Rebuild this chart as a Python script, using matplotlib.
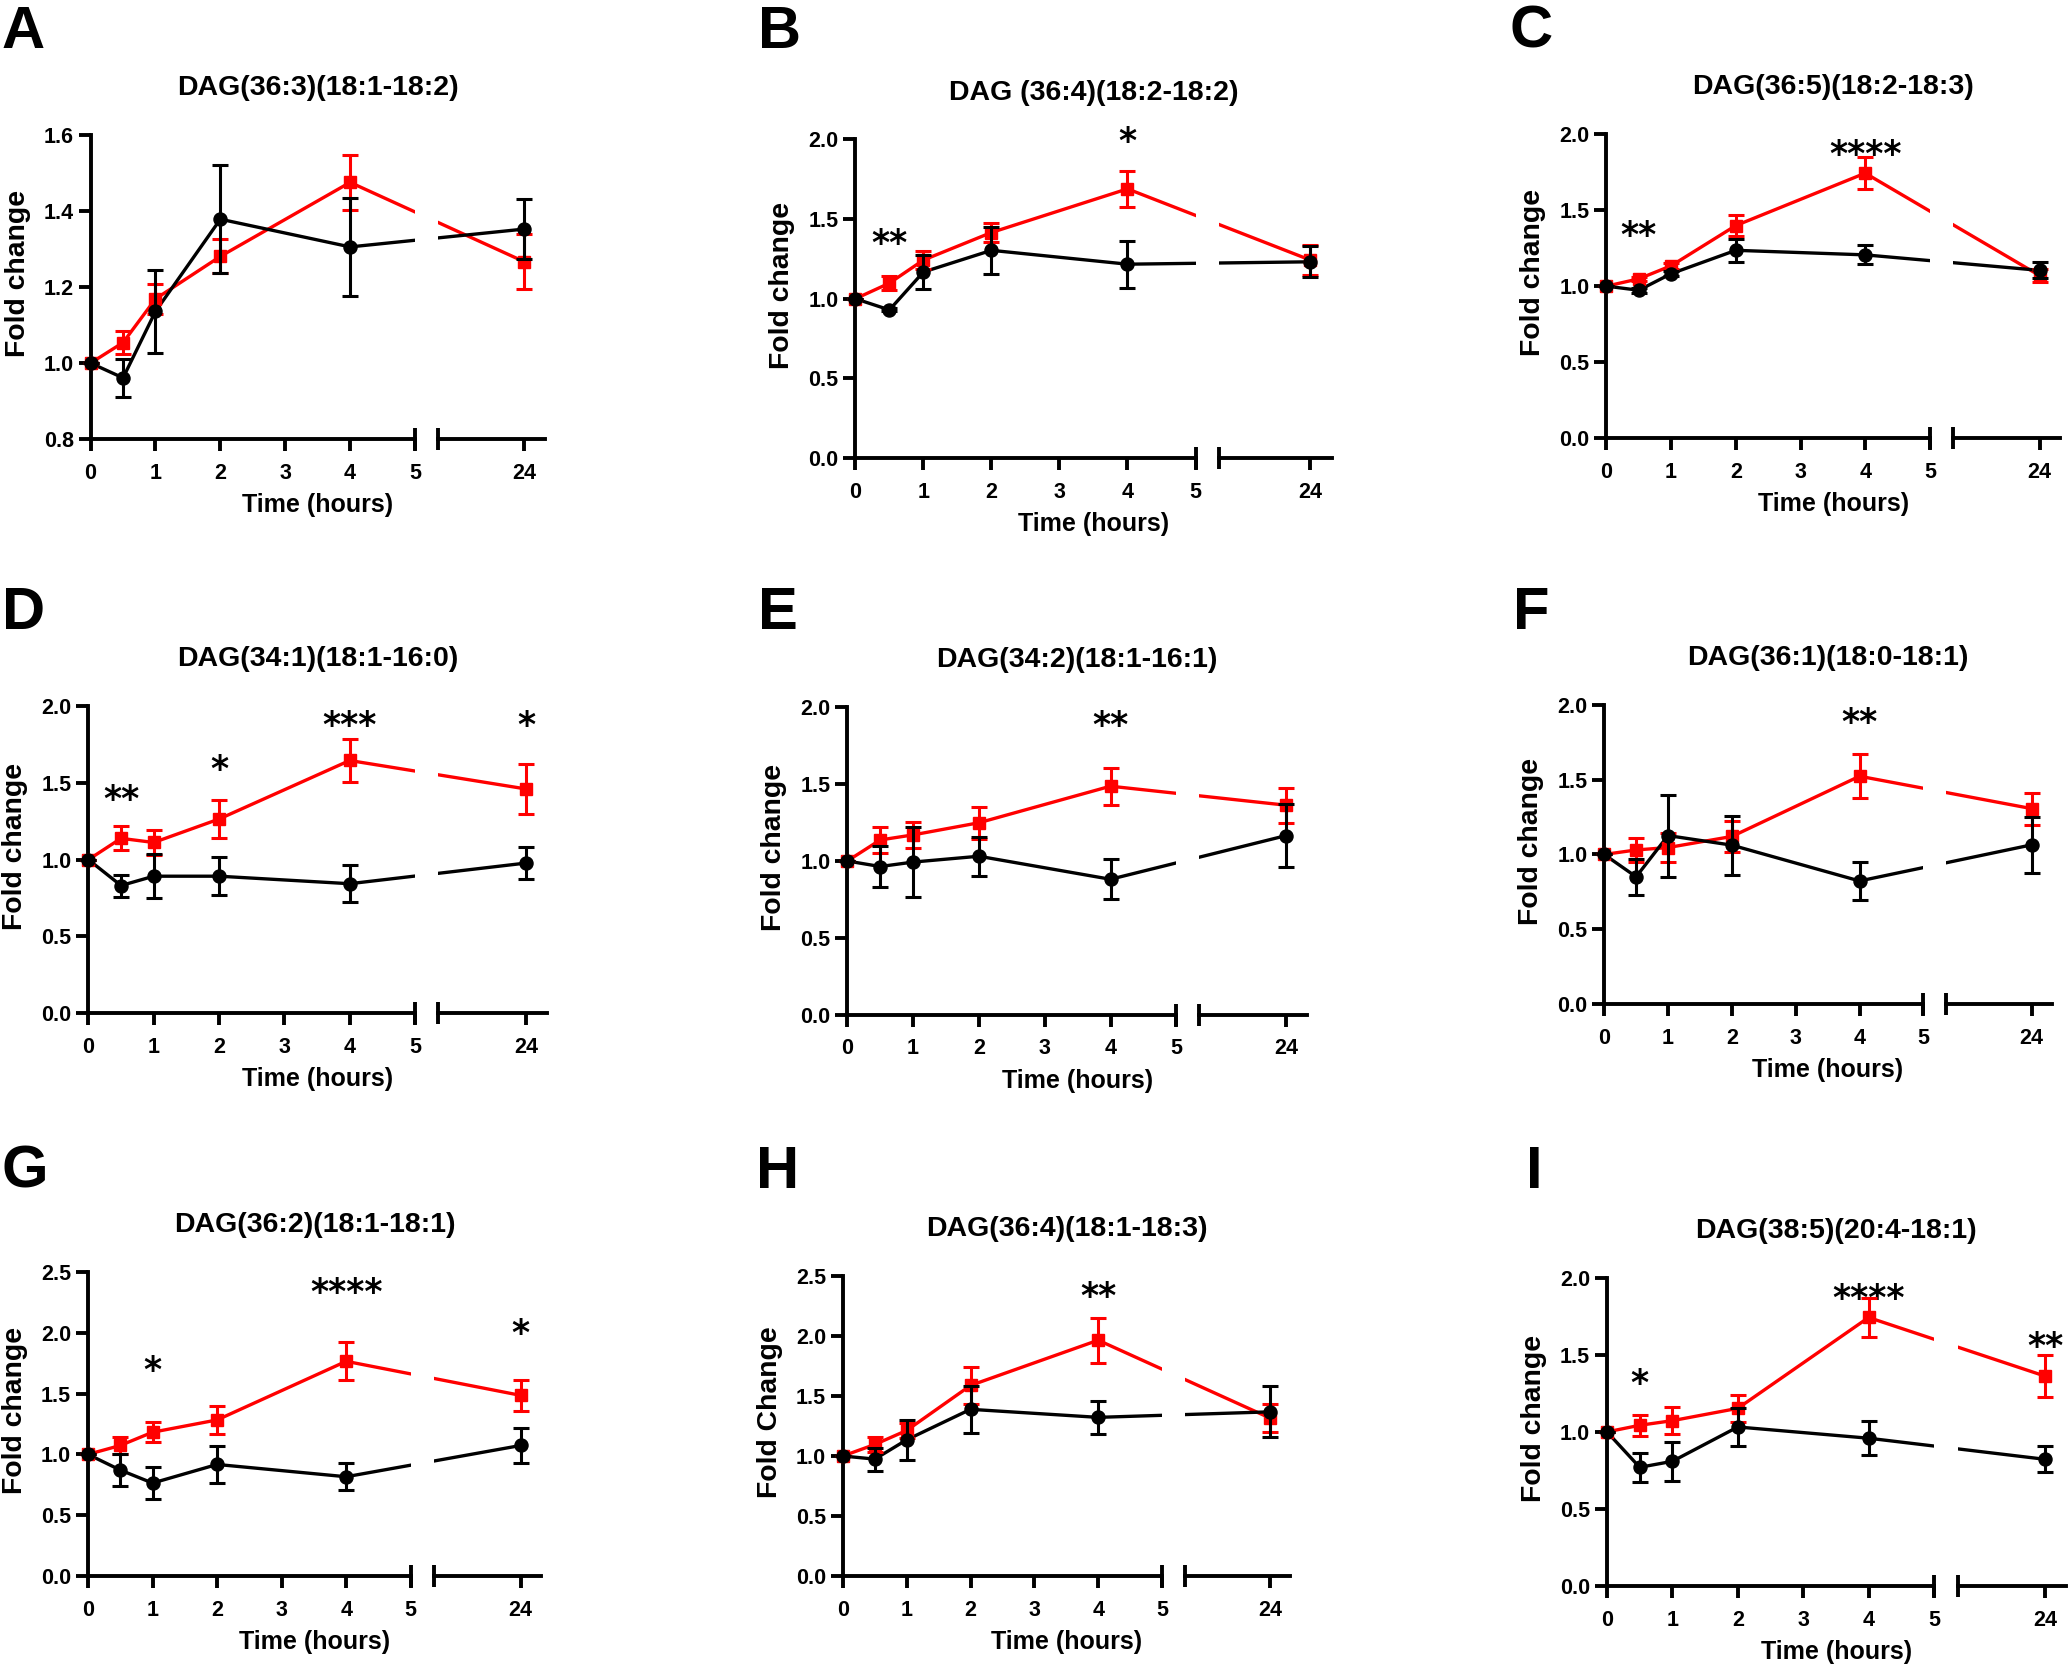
import matplotlib
matplotlib.use("Agg")
import matplotlib.pyplot as plt
from matplotlib.ticker import FixedLocator
from matplotlib.transforms import offset_copy

plt.rcParams['font.family'] = ['Liberation Sans', 'DejaVu Sans']
plt.rcParams['font.weight'] = 'bold'

# sampling times (hours)
times = [0, 0.5, 1, 2, 4, 24]

letters = ['A', 'B', 'C', 'D', 'E', 'F', 'G', 'H', 'I']
titles = ['DAG(36:3)(18:1-18:2)', 'DAG (36:4)(18:2-18:2)', 'DAG(36:5)(18:2-18:3)',
          'DAG(34:1)(18:1-16:0)', 'DAG(34:2)(18:1-16:1)', 'DAG(36:1)(18:0-18:1)',
          'DAG(36:2)(18:1-18:1)', 'DAG(36:4)(18:1-18:3)', 'DAG(38:5)(20:4-18:1)']
ylabels = ['Fold change'] * 7 + ['Fold Change', 'Fold change']

# red = treated (squares), black = control (circles)
a_red = [1.0, 1.054, 1.169, 1.281, 1.476, 1.267]
a_red_err = [0, 0.03, 0.04, 0.045, 0.073, 0.073]
a_black = [1.0, 0.961, 1.136, 1.379, 1.306, 1.353]
a_black_err = [0, 0.05, 0.11, 0.143, 0.129, 0.08]

b_red = [1.0, 1.098, 1.243, 1.416, 1.69, 1.243]
b_red_err = [0, 0.043, 0.054, 0.06, 0.115, 0.097]
b_black = [1.0, 0.93, 1.168, 1.304, 1.217, 1.232]
b_black_err = [0, 0.01, 0.108, 0.146, 0.148, 0.097]

c_red = [1.0, 1.048, 1.134, 1.399, 1.744, 1.07]
c_red_err = [0, 0.015, 0.02, 0.071, 0.104, 0.04]
c_black = [1.0, 0.973, 1.082, 1.236, 1.206, 1.104]
c_black_err = [0, 0.015, 0.015, 0.074, 0.062, 0.052]

d_red = [1.0, 1.139, 1.112, 1.265, 1.647, 1.461]
d_red_err = [0, 0.079, 0.083, 0.125, 0.14, 0.166]
d_black = [1.0, 0.831, 0.892, 0.892, 0.843, 0.978]
d_black_err = [0, 0.072, 0.144, 0.125, 0.121, 0.105]

e_red = [1.0, 1.137, 1.17, 1.249, 1.487, 1.363]
e_red_err = [0, 0.087, 0.084, 0.103, 0.12, 0.114]
e_black = [1.0, 0.964, 0.993, 1.031, 0.881, 1.166]
e_black_err = [0, 0.131, 0.226, 0.127, 0.129, 0.205]

f_red = [1.0, 1.03, 1.046, 1.12, 1.522, 1.306]
f_red_err = [0, 0.08, 0.095, 0.105, 0.146, 0.107]
f_black = [1.0, 0.851, 1.126, 1.062, 0.823, 1.064]
f_black_err = [0, 0.12, 0.274, 0.197, 0.124, 0.187]

g_red = [1.0, 1.073, 1.182, 1.283, 1.765, 1.485]
g_red_err = [0, 0.072, 0.084, 0.112, 0.157, 0.13]
g_black = [1.0, 0.871, 0.764, 0.917, 0.816, 1.073]
g_black_err = [0, 0.134, 0.13, 0.149, 0.112, 0.147]

h_red = [1.0, 1.096, 1.213, 1.588, 1.965, 1.316]
h_red_err = [0, 0.06, 0.06, 0.152, 0.186, 0.118]
h_black = [1.0, 0.974, 1.135, 1.389, 1.322, 1.368]
h_black_err = [0, 0.095, 0.165, 0.194, 0.139, 0.212]

i_red = [1.0, 1.043, 1.073, 1.153, 1.743, 1.362]
i_red_err = [0, 0.068, 0.088, 0.088, 0.128, 0.137]
i_black = [1.0, 0.77, 0.809, 1.032, 0.959, 0.822]
i_black_err = [0, 0.093, 0.125, 0.121, 0.11, 0.085]

series = [(a_red, a_red_err, a_black, a_black_err),
          (b_red, b_red_err, b_black, b_black_err),
          (c_red, c_red_err, c_black, c_black_err),
          (d_red, d_red_err, d_black, d_black_err),
          (e_red, e_red_err, e_black, e_black_err),
          (f_red, f_red_err, f_black, f_black_err),
          (g_red, g_red_err, g_black, g_black_err),
          (h_red, h_red_err, h_black, h_black_err),
          (i_red, i_red_err, i_black, i_black_err)]

# significance marks: (time, height of mark centre, label)
stars = [[],
         [(0.5, 1.40, '**'), (4, 2.04, '*')],
         [(0.5, 1.39, '**'), (4, 1.92, '****')],
         [(0.5, 1.45, '**'), (2, 1.64, '*'), (4, 1.93, '***'), (24, 1.93, '*')],
         [(4, 1.94, '**')],
         [(4, 1.94, '**')],
         [(1, 1.76, '*'), (4, 2.40, '****'), (24, 2.06, '*')],
         [(4, 2.40, '**')],
         [(0.5, 1.37, '*'), (4, 1.92, '****'), (24, 1.61, '**')]]

ylims = [(0.8, 1.6)] + [(0, 2.0)] * 5 + [(0, 2.5)] * 2 + [(0, 2.0)]
ysteps = [0.2] + [0.5] * 8

# pixel layout: y-axis x, x=5 position, right segment start/end, top, bottom
layout = [(90.6, 415, 437.5, 544.6, 135.3, 439),
          (855.4, 1195.5, 1219, 1331.7, 139.5, 458),
          (1606.4, 1929.9, 1952.5, 2060, 134.3, 438),
          (88.4, 415, 438.4, 546.9, 706.4, 1012.9),
          (847.3, 1176.3, 1199, 1307, 707.4, 1014.6),
          (1604.2, 1923.4, 1946, 2051.6, 704.6, 1004.3),
          (88, 410.7, 433.9, 541, 1271.9, 1576),
          (842.9, 1162, 1185, 1290, 1276, 1576),
          (1607, 1934, 1957.6, 2065.7, 1277.9, 1585.9)]
letter_x = [2, 758, 1509, 2, 758, 1513, 2, 756, 1526]
letter_y = [5, 5, 5, 586, 586, 586, 1145, 1145, 1145]

W, H = 2070, 1670
fig = plt.figure(figsize=(W / 100, H / 100), dpi=100)

RED = '#ff0000'
AX_LW = 2.8
LINE_LW = 2.4
star_font = ['DejaVu Sans']


def add_px_axes(x0, x1, top, bot):
    return fig.add_axes([x0 / W, 1 - bot / H, (x1 - x0) / W, (bot - top) / H])


for k in range(9):
    x0, x5, rs, re, top, bot = layout[k]
    red, red_err, black, black_err = series[k]
    scale = (x5 - x0) / 5
    rlo = 5 + (rs - x5) / scale
    rhi = 5 + (re - x5) / scale
    p24 = rlo + 0.81 * (rhi - rlo)
    pos = [t if t <= 5 else p24 for t in times]

    axL = add_px_axes(x0, x5, top, bot)
    axR = add_px_axes(rs, re, top, bot)
    lo, hi = ylims[k]
    n = int(round((hi - lo) / ysteps[k]))
    yt = [lo + j * ysteps[k] for j in range(n + 1)]

    for ax in (axL, axR):
        ax.set_ylim(lo, hi)
        ax.plot(pos, red, color=RED, lw=LINE_LW, zorder=2)
        ax.plot(pos, black, color='black', lw=LINE_LW, zorder=3)
        for s in ('top', 'right'):
            ax.spines[s].set_visible(False)
        ax.spines['bottom'].set_linewidth(AX_LW)
        ax.spines['left'].set_linewidth(AX_LW)
        ax.tick_params(axis='both', which='major', direction='out', length=8.6,
                       width=AX_LW, labelsize=15.5, pad=8.5)
        ax.tick_params(axis='x', which='minor', direction='inout', length=16.5, width=AX_LW)
        ax.xaxis.remove_overlapping_locs = False
        ax.patch.set_alpha(0)

    axL.set_xlim(0, 5)
    axR.set_xlim(rlo, rhi)
    axL.set_yticks(yt)
    axL.set_yticklabels(['%.1f' % v for v in yt])
    axL.tick_params(axis='y', pad=3.6)
    axL.set_xticks([0, 1, 2, 3, 4, 5])
    axL.set_xticklabels(['0', '1', '2', '3', '4', '5'])
    axL.xaxis.set_minor_locator(FixedLocator([5]))
    axR.set_xticks([p24])
    axR.set_xticklabels(['24'])
    axR.xaxis.set_minor_locator(FixedLocator([rlo]))
    axR.spines['left'].set_visible(False)
    axR.tick_params(axis='y', left=False, labelleft=False)

    for ax, idx in ((axL, range(5)), (axR, [5])):
        xs = [pos[j] for j in idx]
        ax.errorbar(xs, [red[j] for j in idx], yerr=[red_err[j] for j in idx],
                    fmt='s', color=RED, ms=9, capsize=5.6, elinewidth=2.2,
                    capthick=2.2, zorder=4, clip_on=False)
        ax.errorbar(xs, [black[j] for j in idx], yerr=[black_err[j] for j in idx],
                    fmt='o', color='black', ms=9.4, capsize=5.6, elinewidth=2.2,
                    capthick=2.2, zorder=5, clip_on=False)

    for t, yv, lab in stars[k]:
        ax = axR if t > 5 else axL
        tr = offset_copy(ax.transData, fig=fig, y=-0.545 * 25, units='points')
        ax.text(p24 if t > 5 else t, yv, lab, ha='center', va='baseline',
                fontsize=25, fontweight='bold', family=star_font, transform=tr,
                clip_on=False)

    mid = (x0 + re) / 2
    fig.text(mid / W, 1 - (top - 47) / H, titles[k], ha='center', va='center',
             fontsize=20.5)
    fig.text(mid / W, 1 - (bot + 66) / H, 'Time (hours)', ha='center', va='center',
             fontsize=18)
    fig.text((x0 - 73) / W, 1 - ((top + bot) / 2 - 13.5) / H, ylabels[k], rotation=90,
             ha='center', va='center', fontsize=20.4)
    fig.text(letter_x[k] / W, 1 - letter_y[k] / H, letters[k], ha='left', va='top',
             fontsize=43)

fig.savefig('out.png', dpi=100)
